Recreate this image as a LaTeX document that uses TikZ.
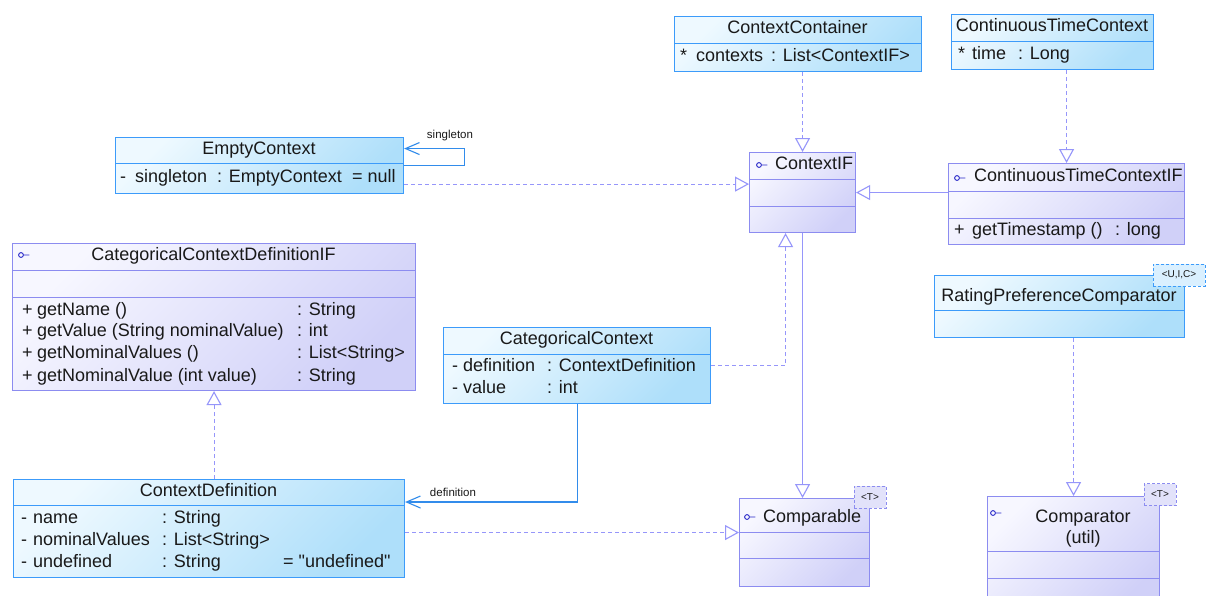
\documentclass[tikz,border=0pt]{standalone}
\usepackage{fontspec}
\setmainfont{Liberation Sans}[Ligatures=TeXOff]
\usetikzlibrary{arrows.meta,positioning,calc}
\definecolor{ifborder}{RGB}{140,140,240}
\definecolor{iftop}{RGB}{247,247,255}
\definecolor{ifbot}{RGB}{208,208,248}
\definecolor{iftag}{RGB}{226,226,250}
\definecolor{clsborder}{RGB}{60,155,250}
\definecolor{clstop}{RGB}{238,249,255}
\definecolor{clsbot}{RGB}{174,223,250}
\definecolor{clstag}{RGB}{218,240,255}
\definecolor{realline}{RGB}{150,150,250}
\definecolor{assocline}{RGB}{50,140,235}
\definecolor{umltext}{RGB}{25,25,25}
\definecolor{iconblue}{RGB}{40,40,200}
\newcommand{\umlfont}{\fontsize{18}{21}\selectfont}
\newcommand{\labelfont}{\fontsize{11.5}{13}\selectfont}
\newcommand{\tagfont}{\fontsize{10}{12}\selectfont}

\begin{document}
\begin{tikzpicture}[x=1pt,y=-1pt]
  \tikzstyle{iface}=[draw=ifborder,line width=1.1pt,top color=iftop,bottom color=ifbot,shading angle=45,anchor=north west,inner sep=0pt]
  \tikzstyle{cls}=[draw=clsborder,line width=1.1pt,top color=clstop,bottom color=clsbot,shading angle=45,anchor=north west,inner sep=0pt]
  \tikzstyle{title}=[anchor=mid,inner sep=0pt,text=umltext,font=\umlfont]
  \tikzstyle{member}=[anchor=mid west,inner sep=0pt,text=umltext,font=\umlfont]
  \tikzstyle{tagbox}=[draw=ifborder,dash pattern=on 3pt off 2pt,line width=0.9pt,fill=iftag,minimum width=32pt,minimum height=22pt,inner sep=0pt,font=\tagfont,text=umltext]
  \tikzstyle{real}=[draw=realline,line width=1.1pt,dash pattern=on 4pt off 3pt,-{Triangle[open,length=14pt,width=15pt]}]
  \tikzstyle{gen}=[draw=realline,line width=1.1pt,-{Triangle[open,length=14pt,width=15pt]}]
  \tikzstyle{assoc}=[draw=assocline,line width=1.1pt,-{Straight Barb[length=14pt,width=12pt]}]

  \useasboundingbox[fill=white] (0,0) rectangle (1206,595);
  \clip (0,0) rectangle (1206,595);

  % interfaces
  \node[iface,minimum width=106pt,minimum height=80pt] (ctxif) at (749,152) {};
  \node[iface,minimum width=236pt,minimum height=81pt] (cticf) at (948,163) {};
  \node[iface,minimum width=403pt,minimum height=147pt] (cdefif) at (12,243) {};
  \node[iface,minimum width=130pt,minimum height=88pt] (cmpable) at (739,498) {};
  \node[iface,minimum width=172pt,minimum height=110pt] (cmptor) at (987,496) {};
  % classes
  \node[cls,minimum width=247pt,minimum height=55pt] (ctxcont) at (674,16) {};
  \node[cls,minimum width=202pt,minimum height=55pt] (ctc) at (951,14) {};
  \node[cls,minimum width=288pt,minimum height=56pt] (empty) at (115,137) {};
  \node[cls,minimum width=267pt,minimum height=76pt] (catctx) at (443,327) {};
  \node[cls,minimum width=391pt,minimum height=98pt] (cdef) at (13,479) {};
  \node[cls,minimum width=250pt,minimum height=62pt] (rpc) at (934,275) {};

  % compartments
  \foreach \n/\y in {ctxif/179,ctxif/206,cticf/191,cticf/218,cdefif/270,cdefif/297,cmpable/532,cmpable/558,cmptor/551,cmptor/578}
    \draw[ifborder,line width=1pt] (\n.west |- 0,\y) -- (\n.east |- 0,\y);
  \foreach \n/\y in {ctxcont/43,ctc/41,empty/163,catctx/354,cdef/505,rpc/310}
    \draw[clsborder,line width=1pt] (\n.west |- 0,\y) -- (\n.east |- 0,\y);

  % interface marks
  \foreach \x/\y in {759/165,957/178,21/255,747/517,993/513}
    \draw[iconblue,line width=0.9pt] (\x,\y) circle (2.4pt) ++(2.4pt,0) -- ++(6pt,0);

  % titles
  \node[title] (ctxcontN) at (797.5,31) {ContextContainer};
  \node[title] (ctcN) at (1052,29) {ContinuousTimeContext};
  \node[title,anchor=mid west] (ctxifN) at (775,167) {ContextIF};
  \node[title,anchor=mid west] (cticfN) at (974,179) {ContinuousTimeContextIF};
  \node[title] (emptyN) at (259,152) {EmptyContext};
  \node[title] (cdefifN) at (213.5,258) {CategoricalContextDefinitionIF};
  \node[title] (catctxN) at (576.5,342) {CategoricalContext};
  \node[title] (cdefN) at (208.5,494) {ContextDefinition};
  \node[title,anchor=mid west] (cmpableN) at (763,520) {Comparable};
  \node[title,anchor=center,align=center] (cmptorN) at (1083,529) {Comparator\\(util)};
  \node[title] (rpcN) at (1059,299) {RatingPreferenceComparator};

  % members
  \node[member] (ctxcont1) at (680,58.5) {\makebox[16pt][l]{*}\makebox[75pt][l]{contexts}: List<ContextIF>};
  \node[member] (ctc1) at (958,56.5) {\makebox[14pt][l]{*}\makebox[46pt][l]{time}: Long};
  \node[member] (empty1) at (120,179.5) {\makebox[15pt][l]{-}\makebox[82pt][l]{singleton}\makebox[135pt][l]{: EmptyContext}= null};
  \node[member] (cticf1) at (954,232.5) {\makebox[18pt][l]{+}\makebox[143pt][l]{getTimestamp ()}: long};
  \node[member] (cdefif1) at (22,312.5) {\makebox[15pt][l]{+}\makebox[260pt][l]{getName ()}: String};
  \node[member] (cdefif2) at (22,333.5) {\makebox[15pt][l]{+}\makebox[260pt][l]{getValue (String nominalValue)}: int};
  \node[member] (cdefif3) at (22,355.5) {\makebox[15pt][l]{+}\makebox[260pt][l]{getNominalValues ()}: List<String>};
  \node[member] (cdefif4) at (22,378.5) {\makebox[15pt][l]{+}\makebox[260pt][l]{getNominalValue (int value)}: String};
  \node[member] (catctx1) at (452,368.5) {\makebox[11pt][l]{-}\makebox[84pt][l]{definition}: ContextDefinition};
  \node[member] (catctx2) at (452,390.5) {\makebox[11pt][l]{-}\makebox[84pt][l]{value}: int};
  \node[member] (cdef1) at (21,520.5) {\makebox[12pt][l]{-}\makebox[129pt][l]{name}: String};
  \node[member] (cdef2) at (21,542.5) {\makebox[12pt][l]{-}\makebox[129pt][l]{nominalValues}: List<String>};
  \node[member] (cdef3) at (21,564.5) {\makebox[12pt][l]{-}\makebox[129pt][l]{undefined}\makebox[121pt][l]{: String}= "undefined"};

  % connectors
  \draw[real] (ctxif.north |- ctxcont.south) -- (ctxif.north);
  \draw[real] (cticf.north |- ctc.south) -- (cticf.north);
  \draw[gen] (ctxif.east -| cticf.west) -- (ctxif.east);
  \coordinate (emptyout) at ([yshift=10pt]empty.south east);
  \draw[real] (emptyout) -- (emptyout -| ctxif.west);
  \draw[assoc] (empty.east) -- ++(60,0) |- ([yshift=17pt]empty.east);
  \node[font=\labelfont,text=umltext,inner sep=0pt] (singletonL) at (450,136) {singleton};
  \draw[real] (catctx.east) -| ([xshift=-17pt]ctxif.south);
  \draw[gen] (ctxif.south) -- (ctxif.south |- cmpable.north);
  \coordinate (defend) at ([yshift=-23pt]cdef.north east);
  \draw[assoc] (catctx.south) |- (defend);
  \node[font=\labelfont,text=umltext,inner sep=0pt] (definitionL) at (453,492) {definition};
  \coordinate (cdefout) at ([yshift=-4pt]cdef.east);
  \draw[real] (cdefout) -- (cdefout -| cmpable.west);
  \draw[real] (cdefif.south |- cdef.north) -- (cdefif.south);
  \draw[real] (cmptor.north |- rpc.south) -- (cmptor.north);

  % type parameters
  \node[tagbox] (cmpableT) at (870,497) {<T>};
  \node[tagbox] (cmptorT) at (1160,494.5) {<T>};
  \node[tagbox,draw=clsborder,fill=clstag,minimum width=52pt] (rpcT) at (1179,275) {<U,I,C>};
\end{tikzpicture}
\end{document}
